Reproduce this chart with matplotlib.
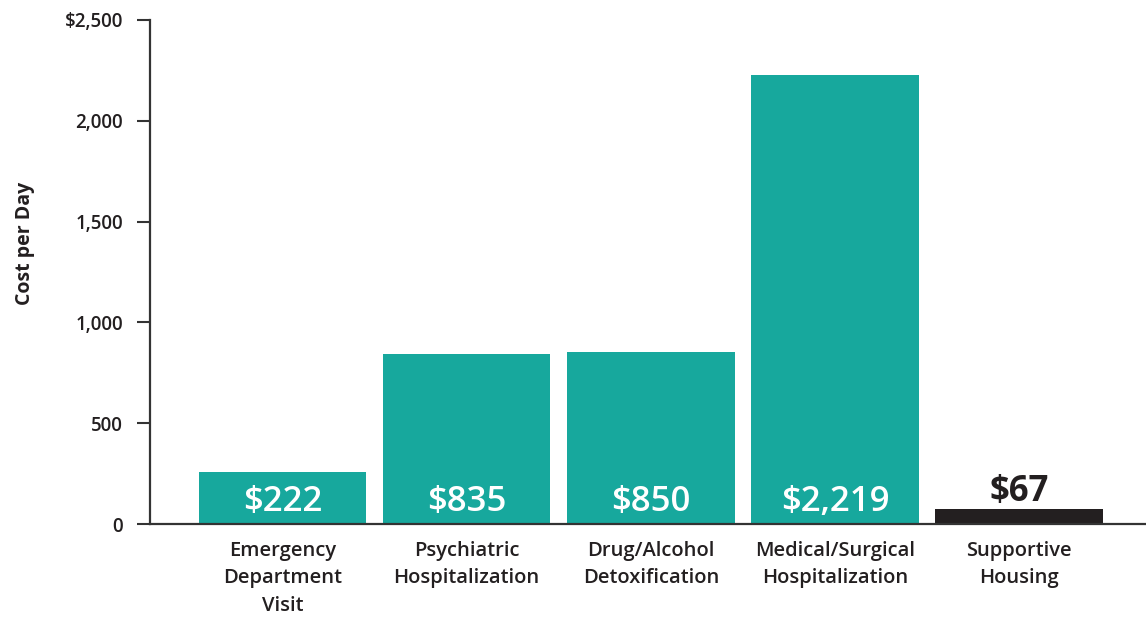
import numpy as np
import matplotlib
matplotlib.use("Agg")
import matplotlib.pyplot as plt

plt.rcParams['font.family'] = ['Open Sans', 'DejaVu Sans']

# data
categories = ["Emergency\nDepartment\nVisit", "Psychiatric\nHospitalization",
              "Drug/Alcohol\nDetoxification", "Medical/Surgical\nHospitalization",
              "Supportive\nHousing"]
bar_heights = [258, 843, 855, 2227, 74]
value_labels = ["$222", "$835", "$850", "$2,219", "$67"]
yticks = [0, 500, 1000, 1500, 2000, 2500]
ytick_labels = ["0", "500", "1,000", "1,500", "2,000", "$2,500"]

teal = "#17a89d"
dark = "#231f20"
colors = [teal, teal, teal, teal, dark]

fig = plt.figure(figsize=(11.46, 6.19), dpi=100)
ax = fig.add_axes([150 / 1146, 1 - 524 / 619, 1 - 150 / 1146, 504 / 619])

x = np.arange(len(categories))
bars = ax.bar(x, bar_heights, width=0.91, color=colors, zorder=2)

ax.set_xlim(-0.719, 4.688)
ax.set_ylim(0, 2500)

for spine in ["top", "right"]:
    ax.spines[spine].set_visible(False)
for spine in ["left", "bottom"]:
    ax.spines[spine].set_color("#333333")
    ax.spines[spine].set_linewidth(1.6)

ax.set_yticks(yticks)
ax.set_yticklabels(ytick_labels, fontsize=13.5, fontweight="semibold", color=dark)
ax.tick_params(axis="y", length=9.5, width=1.5, color="#333333", pad=10)

ax.set_xticks(x)
ax.set_xticklabels(categories, fontsize=14.5, fontweight="semibold", color=dark,
                   linespacing=1.5)
ax.tick_params(axis="x", length=0, pad=12)

# value labels
for i, (h, lab) in enumerate(zip(bar_heights, value_labels)):
    if colors[i] == teal:
        ax.annotate(lab, (x[i], 0), xytext=(0, 16), textcoords="offset points",
                    ha="center", va="center", fontsize=25, fontweight="semibold",
                    color="white", zorder=3)
    else:
        ax.annotate(lab, (x[i], h), xytext=(0, -1), textcoords="offset points",
                    ha="center", va="bottom", fontsize=25, fontweight="bold",
                    color=dark, zorder=3)

fig.text(25 / 1146, 1 - 243 / 619, "Cost per Day", rotation=90, ha="center",
         va="center", fontsize=14, fontweight="bold", color=dark)

fig.savefig("out.png", dpi=100, facecolor="white")
